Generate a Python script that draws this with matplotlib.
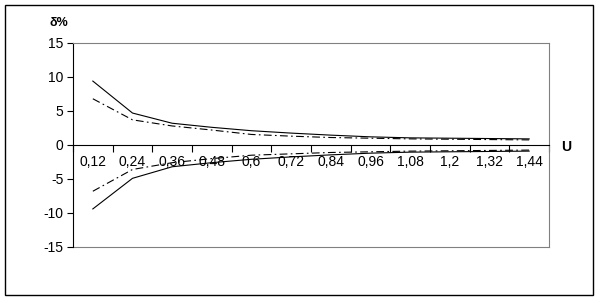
import matplotlib
matplotlib.use('Agg')
import matplotlib.pyplot as plt
from matplotlib.patches import Rectangle

# данные
u_labels = ['0,12', '0,24', '0,36', '0,48', '0,6', '0,72',
            '0,84', '0,96', '1,08', '1,2', '1,32', '1,44']
solid_upper = [9.4, 4.7, 3.2, 2.6, 2.1, 1.75, 1.45, 1.2, 1.05, 1.0, 0.95, 0.9]
dashdot_upper = [6.8, 3.7, 2.8, 2.2, 1.55, 1.3, 1.1, 1.0, 0.9, 0.85, 0.8, 0.75]
solid_lower = [-9.4, -4.9, -3.2, -2.6, -2.1, -1.75, -1.45, -1.2, -1.05, -1.0, -0.95, -0.9]
dashdot_lower = [-6.8, -3.6, -2.6, -2.0, -1.5, -1.3, -1.1, -1.0, -0.9, -0.85, -0.8, -0.75]
y_ticks = [-15, -10, -5, 0, 5, 10, 15]

plt.rcParams['font.family'] = ['Liberation Sans', 'DejaVu Sans']

fig = plt.figure(figsize=(6.0, 3.01), dpi=100)
ax = fig.add_axes([73 / 600, 54 / 301, 476 / 600, 204 / 301])

x = list(range(len(u_labels)))
dd = (0, (7, 3, 1.5, 3))
ax.plot(x, solid_upper, color='black', lw=0.8)
ax.plot(x, dashdot_upper, color='black', lw=0.8, linestyle=dd)
ax.plot(x, solid_lower, color='black', lw=0.8)
ax.plot(x, dashdot_lower, color='black', lw=0.8, linestyle=dd)

ax.set_xlim(-0.5, len(u_labels) - 0.5)
ax.set_ylim(-15, 15)

# оси
ax.spines['bottom'].set_position(('data', 0))
ax.spines['bottom'].set_color('black')
ax.spines['left'].set_color('black')
ax.spines['top'].set_color('#808080')
ax.spines['right'].set_color('#808080')
for s in ax.spines.values():
    s.set_linewidth(0.8)
ax.axhline(-15, color='#808080', lw=0.8, clip_on=False)

ax.set_xticks(x)
ax.set_xticklabels(u_labels, fontsize=10)
ax.set_xticks([k + 0.5 for k in range(-1, len(u_labels))], minor=True)
ax.tick_params(axis='x', which='major', length=0, pad=7)
ax.tick_params(axis='x', which='minor', length=5, width=0.8, direction='out')

ax.set_yticks(y_ticks)
ax.set_yticklabels([str(v) for v in y_ticks], fontsize=10)
ax.tick_params(axis='y', length=4, width=0.8, direction='out', pad=3)

fig.text(59 / 600, 1 - 23 / 301, 'δ%', fontsize=9, fontweight='bold',
         ha='center', va='center')
fig.text(566 / 600, 1 - 147 / 301, 'U', fontsize=10, fontweight='bold',
         ha='center', va='center')

# внешняя рамка
fig.patches.append(Rectangle((5 / 600, 6 / 301), 588 / 600, 290 / 301,
                             transform=fig.transFigure, fill=False,
                             edgecolor='black', lw=1))

fig.savefig('out.png', dpi=100)
